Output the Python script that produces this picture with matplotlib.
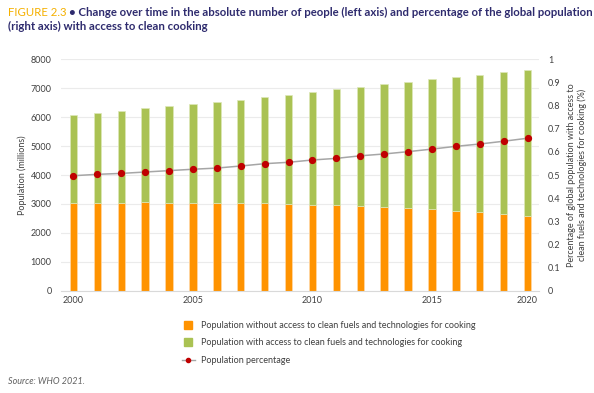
import numpy as np
import matplotlib.pyplot as plt
from matplotlib.lines import Line2D

# values (millions of people, share with access)
bar_pos = np.arange(20)
without_access = [3020, 3040, 3040, 3065, 3040, 3040, 3040, 3020, 3020, 2985,
                  2960, 2950, 2930, 2895, 2860, 2815, 2765, 2710, 2650, 2580]
with_access = [3040, 3090, 3170, 3240, 3340, 3420, 3490, 3590, 3680, 3790,
               3910, 4010, 4110, 4240, 4355, 4490, 4620, 4750, 4900, 5050]
pct = [0.497, 0.503, 0.507, 0.513, 0.519, 0.525, 0.530, 0.539, 0.549, 0.555,
       0.565, 0.572, 0.583, 0.591, 0.601, 0.612, 0.624, 0.634, 0.646, 0.659]
tick_pos = [0, 5, 10, 15, 19]
tick_labels = ['2000', '2005', '2010', '2015', '2020']

orange = '#FF9300'
green = '#AAC253'
navy = '#2E2B6E'
txt = '#404040'

plt.rcParams['font.family'] = ['Lato', 'DejaVu Sans']

fig = plt.figure(figsize=(5.94, 3.93), dpi=100)
ax = fig.add_axes([0.1035, 0.2603, 0.8047, 0.5887])

ax.bar(bar_pos, without_access, width=0.31, color=orange, edgecolor='#FFD9A8',
       linewidth=0.5, zorder=2)
ax.bar(bar_pos, with_access, bottom=without_access, width=0.31, color=green,
       edgecolor='#DDE8B8', linewidth=0.5, zorder=2)

ax.set_xlim(-0.5, 19.5)
ax.set_ylim(0, 8000)
ax.set_yticks(np.arange(0, 8001, 1000))
ax.set_xticks(tick_pos)
ax.set_xticklabels(tick_labels)
ax.grid(axis='y', color='#EBEBEB', linewidth=0.8, zorder=0)
ax.set_axisbelow(True)
for s in ['top', 'right', 'left']:
    ax.spines[s].set_visible(False)
ax.spines['bottom'].set_color('#D9D9D9')
ax.tick_params(axis='both', length=0, labelsize=6.5, colors=txt)
ax.tick_params(axis='y', pad=7)
ax.tick_params(axis='x', pad=4)
ax.set_ylabel('Population (millions)', fontsize=6.5, color=txt, labelpad=3)

ax2 = ax.twinx()
ax2.plot(bar_pos, pct, color='#A6A6A6', linewidth=1.1, marker='o', markersize=4.2,
         markerfacecolor='#C00000', markeredgecolor='#C00000', zorder=3)
ax2.set_ylim(0, 1)
ax2.set_yticks(np.arange(0, 1.01, 0.1))
ax2.set_yticklabels(['0', '0.1', '0.2', '0.3', '0.4', '0.5', '0.6', '0.7', '0.8', '0.9', '1'])
for s in ax2.spines.values():
    s.set_visible(False)
ax2.tick_params(axis='y', length=0, labelsize=6.5, colors=txt, pad=6)
ax2.set_ylabel('Percentage of global population with access to\nclean fuels and technologies for cooking (%)',
               fontsize=6.5, color=txt, labelpad=5, linespacing=1.2)

handles = [
    Line2D([], [], linestyle='none', marker='s', markersize=6, color=orange),
    Line2D([], [], linestyle='none', marker='s', markersize=6, color=green),
    Line2D([], [], color='#A6A6A6', linewidth=1, marker='o', markersize=3,
           markerfacecolor='#C00000', markeredgecolor='#C00000'),
]
labels = ['Population without access to clean fuels and technologies for cooking',
          'Population with access to clean fuels and technologies for cooking',
          'Population percentage']
fig.legend(handles, labels, loc='upper left', bbox_to_anchor=(0.298, 0.195),
           frameon=False, fontsize=6.5, labelcolor=txt, handlelength=1.5,
           handletextpad=0.7, labelspacing=0.95, borderpad=0)

# title in two colours
t1 = fig.text(0.014, 0.967, 'FIGURE 2.3', color='#F5B000', fontsize=8.2, va='center')
fig.canvas.draw()
bb = t1.get_window_extent()
x_end = bb.x1 / fig.bbox.width
fig.text(x_end + 0.004, 0.967,
         '\u2022 Change over time in the absolute number of people (left axis) and percentage of the global population',
         color=navy, fontsize=8.2, fontweight='bold', va='center')
fig.text(0.014, 0.932, '(right axis) with access to clean cooking',
         color=navy, fontsize=8.2, fontweight='bold', va='center')

fig.text(0.014, 0.03, 'Source: WHO 2021.', color='#606060', fontsize=6.5, style='italic', va='center')

fig.savefig('out.png', dpi=100)
